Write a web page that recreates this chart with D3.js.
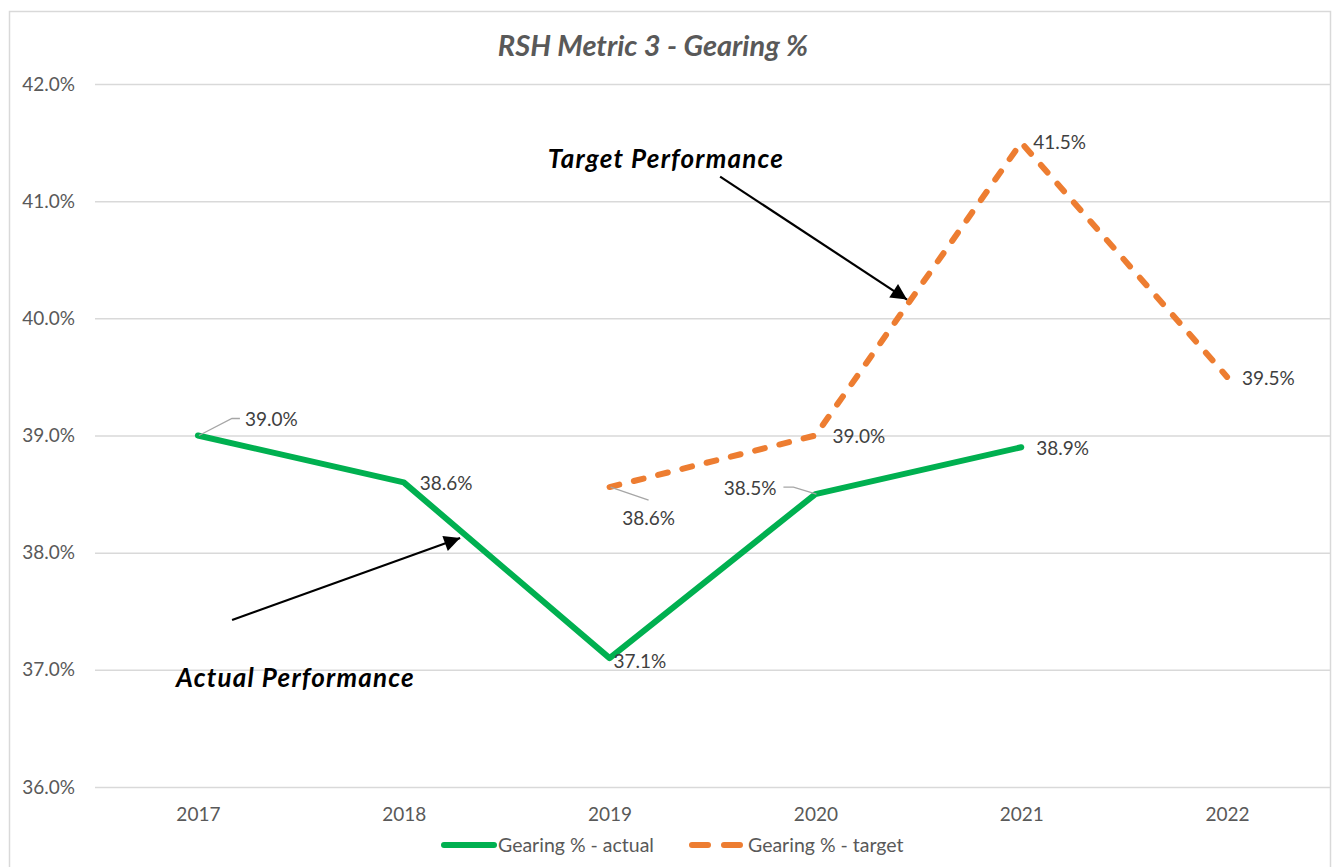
<!DOCTYPE html>
<html>
<head>
<meta charset="utf-8">
<script src="https://cdn.jsdelivr.net/npm/d3@7"></script>
<style>
body { margin: 0; background: #fff; }
text { font-family: Lato, "Liberation Sans", sans-serif; }
</style>
</head>
<body>
<svg id="chart" width="1336" height="867"></svg>
<script>
// datos
let years = ['2017', '2018', '2019', '2020', '2021', '2022'];
let actualValues = [39.0, 38.6, 37.1, 38.5, 38.9, null];
let targetValues = [null, null, 38.56, 39.0, 41.5, 39.5];
let yTicks = [36, 37, 38, 39, 40, 41, 42];
let seriesNames = ['Gearing % - actual', 'Gearing % - target'];

// label placement relative to point (layout only)
let actualPlace = [
    {dx: 47, dy: -16, anchor: 'start', leader: [[34, -17], [42, -17]]},
    {dx: 16, dy: 1, anchor: 'start'},
    {dx: 4, dy: 3, anchor: 'start'},
    {dx: -39, dy: -6, anchor: 'end', leader: [[-22, -7], [-32, -7]]},
    {dx: 15, dy: 1, anchor: 'start'},
    null
];
let targetPlace = [
    null, null,
    {dx: 39, dy: 31, anchor: 'middle', leader: [[39, 13]]},
    {dx: 17, dy: 1, anchor: 'start'},
    {dx: 12, dy: 0, anchor: 'start'},
    {dx: 15, dy: 1, anchor: 'start'}
];

// annotations in data space (x = category index, y = %)
let annotations = [
    {text: 'Target Performance', tx: 1.70, ty: 41.36, x1: 2.537, y1: 41.21, x2: 3.445, y2: 40.16},
    {text: 'Actual Performance', tx: -0.106, ty: 36.93, x1: 0.166, y1: 37.425, x2: 1.274, y2: 38.125}
];

let green = '#00B050', orange = '#ED7D31', textGrey = '#595959', labelGrey = '#404040', gridGrey = '#d9d9d9';

let svg = d3.select('#chart');
let margin = {left: 95, right: 1330, top: 84, bottom: 787};

let x = d3.scalePoint().domain(years).range([margin.left, margin.right]).padding(0.5);
let y = d3.scaleLinear().domain([36, 42]).range([margin.bottom, margin.top]);
let xi = i => x(years[0]) + i * x.step();

// borde del gráfico
svg.append('rect')
    .attr('x', 9.5).attr('y', 11.5)
    .attr('width', 1321).attr('height', 900)
    .attr('fill', '#fff')
    .attr('stroke', gridGrey)
    .attr('stroke-width', 1.5);

// title
svg.append('text')
    .attr('x', 653).attr('y', 56)
    .attr('text-anchor', 'middle')
    .attr('fill', textGrey)
    .style('font-size', '29px')
    .style('font-weight', 'bold')
    .style('font-style', 'italic')
    .text('RSH Metric 3 - Gearing %');

// eje Y con gridlines
let yAxis = svg.append('g')
    .attr('transform', 'translate(' + margin.left + ',0)')
    .call(d3.axisLeft(y)
        .tickValues(yTicks)
        .tickSize(-(margin.right - margin.left))
        .tickPadding(20)
        .tickFormat(d => d.toFixed(1) + '%'));
yAxis.select('.domain').remove();
yAxis.selectAll('line').attr('stroke', gridGrey).attr('stroke-width', 1.5);
yAxis.selectAll('text').attr('fill', textGrey).style('font-size', '19px').style('font-family', 'Lato');

// eje X
let xAxis = svg.append('g')
    .attr('transform', 'translate(0,' + margin.bottom + ')')
    .call(d3.axisBottom(x).tickSize(0).tickPadding(21));
xAxis.select('.domain').remove();
xAxis.selectAll('text').attr('fill', textGrey).style('font-size', '19px').style('font-family', 'Lato');

// lines
let line = d3.line()
    .defined(d => d.v != null)
    .x(d => x(d.year))
    .y(d => y(d.v));

let actualData = years.map((yr, i) => ({year: yr, v: actualValues[i], i: i}));
let targetData = years.map((yr, i) => ({year: yr, v: targetValues[i], i: i}));

svg.append('path')
    .datum(actualData)
    .attr('d', line)
    .attr('fill', 'none')
    .attr('stroke', green)
    .attr('stroke-width', 6)
    .attr('stroke-linejoin', 'round')
    .attr('stroke-linecap', 'round');

svg.append('path')
    .datum(targetData)
    .attr('d', line)
    .attr('fill', 'none')
    .attr('stroke', orange)
    .attr('stroke-width', 6)
    .attr('stroke-dasharray', '10,15')
    .attr('stroke-linecap', 'round');

// data labels
function drawLabels(data, place) {
    data.forEach(function(d, i) {
        let p = place[i];
        if (d.v == null || !p) return;
        let px = x(d.year), py = y(d.v);
        if (p.leader) {
            let pts = [[px + 1, py]].concat(p.leader.map(o => [px + o[0], py + o[1]]));
            svg.append('path')
                .attr('d', d3.line()(pts))
                .attr('fill', 'none')
                .attr('stroke', '#a6a6a6')
                .attr('stroke-width', 1.3);
        }
        svg.append('text')
            .attr('x', px + p.dx)
            .attr('y', py + p.dy)
            .attr('dy', '0.35em')
            .attr('text-anchor', p.anchor)
            .attr('fill', labelGrey)
            .style('font-size', '19px')
            .text(d.v.toFixed(1) + '%');
    });
}
drawLabels(actualData, actualPlace);
drawLabels(targetData, targetPlace);

// annotations with arrows
svg.append('defs').append('marker')
    .attr('id', 'arrow')
    .attr('viewBox', '0 0 10 10')
    .attr('refX', 10).attr('refY', 5)
    .attr('markerWidth', 21).attr('markerHeight', 16)
    .attr('markerUnits', 'userSpaceOnUse')
    .attr('orient', 'auto')
    .append('path')
    .attr('d', 'M0,0 L10,5 L0,10 z')
    .attr('fill', '#000');

annotations.forEach(function(a) {
    svg.append('text')
        .attr('x', xi(a.tx))
        .attr('y', y(a.ty))
        .attr('dy', '0.35em')
        .attr('fill', '#000')
        .style('font-size', '26px')
        .style('letter-spacing', '1.2px')
        .style('font-weight', 'bold')
        .style('font-style', 'italic')
        .text(a.text);
    svg.append('line')
        .attr('x1', xi(a.x1)).attr('y1', y(a.y1))
        .attr('x2', xi(a.x2)).attr('y2', y(a.y2))
        .attr('stroke', '#000')
        .attr('stroke-width', 2.2)
        .attr('marker-end', 'url(#arrow)');
});

// legend
let legend = svg.append('g').attr('transform', 'translate(0,845)');
let legendItems = [
    {name: seriesNames[0], color: green, dash: null, x: 444, w: 50},
    {name: seriesNames[1], color: orange, dash: '16,16', x: 692, w: 52}
];
legendItems.forEach(function(it) {
    legend.append('line')
        .attr('x1', it.x).attr('x2', it.x + it.w)
        .attr('y1', 0).attr('y2', 0)
        .attr('stroke', it.color)
        .attr('stroke-width', 6)
        .attr('stroke-linecap', 'round')
        .attr('stroke-dasharray', it.dash);
    legend.append('text')
        .attr('x', it.x + it.w + 4)
        .attr('y', 0)
        .attr('dy', '0.35em')
        .attr('fill', textGrey)
        .style('font-size', '19.5px')
        .text(it.name);
});
</script>
</body>
</html>
